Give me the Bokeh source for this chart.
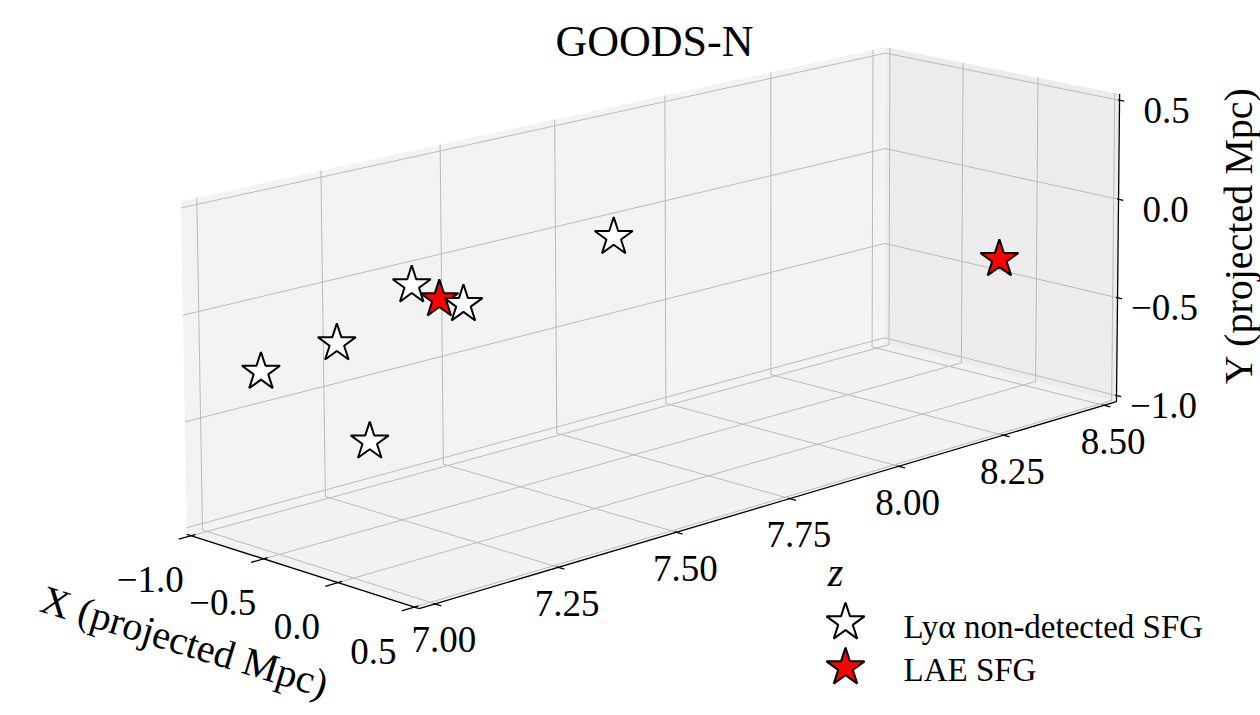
import numpy as np
from bokeh.plotting import figure
from bokeh.models import Range1d
from bokeh.core.properties import value
from bokeh.embed import file_html
from bokeh.resources import INLINE

W, H = 1260, 715
FONT = "Liberation Serif"

# ---------------- data ----------------
# projected X / Y (Mpc) and redshift of each galaxy, LAE flag
x_proj = [-0.85, -0.70, -0.35, -0.55, -0.95, -0.30, -0.60, 0.10]
y_proj = [-0.29, -0.19, -0.56, 0.05, -0.19, -0.01, 0.03, -0.31]
z_spec = [7.07, 7.18, 7.14, 7.29, 7.47, 7.32, 7.74, 8.40]
lae = [0, 0, 0, 0, 1, 0, 0, 1]

# ---------------- chart texts / ticks ----------------
title = "GOODS-N"
x_label = "X (projected Mpc)"
y_label = "Y (projected Mpc)"
z_label = "z"
legend_labels = ["Ly\u03b1 non-detected SFG", "LAE SFG"]

x_lim = (-1.0, 0.5)
y_lim = (-1.0, 0.5)
z_lim = (7.0, 8.5)
x_ticks = [-1.0, -0.5, 0.0, 0.5]
y_ticks = [-1.0, -0.5, 0.0, 0.5]
z_ticks = [7.00, 7.25, 7.50, 7.75, 8.00, 8.25, 8.50]
x_tick_labels = ["\u22121.0", "\u22120.5", "0.0", "0.5"]
y_tick_labels = ["\u22121.0", "\u22120.5", "0.0", "0.5"]
z_tick_labels = ["7.00", "7.25", "7.50", "7.75", "8.00", "8.25", "8.50"]

# ---------------- camera (view calibration: box points -> screen) ----------------
cal_world = [(-1.03125, 0.5, 7.0), (-1.03125, 0.0, 7.0), (-1.03125, -0.5, 7.0), (-1.03125, -1.0, 7.0),
             (-1.03125, 0.5, 8.5), (-1.03125, 0.0, 8.5), (-1.03125, -1.0, 8.5),
             (0.53125, -1.03125, 7.25), (0.53125, -1.03125, 7.5), (0.53125, -1.03125, 7.75),
             (0.53125, -1.03125, 8.0), (0.53125, -1.03125, 8.25), (0.53125, -1.03125, 8.5),
             (0.53125, 0.5, 8.53125), (0.53125, 0.0, 8.53125), (0.53125, -0.5, 8.53125), (0.53125, -1.0, 8.53125),
             (-1.0, -1.03125, 6.96875), (-0.5, -1.03125, 6.96875), (0.0, -1.03125, 6.96875), (0.5, -1.03125, 6.96875)]
cal_screen = [(197, 205), (198, 311.5), (200, 417), (201, 521),
              (872, 54), (872, 150), (872, 343),
              (560, 567), (677, 532), (790, 498), (898, 465), (1002, 435), (1105, 404),
              (1119, 100), (1119, 200), (1116, 297), (1115, 395),
              (192, 536), (263, 558), (337, 583), (411, 606)]
C0 = np.array([0.25, 0.25, -7.75])


def fit_camera(world, screen):
    rows, rhs = [], []
    for (X, Y, Z), (u, v) in zip(world, screen):
        X, Y, Z = np.array([X, Y, Z]) + C0
        rows.append([X, Y, Z, 1, 0, 0, 0, 0, -u * X, -u * Y, -u * Z]); rhs.append(u)
        rows.append([0, 0, 0, 0, X, Y, Z, 1, -v * X, -v * Y, -v * Z]); rhs.append(v)
    p = np.linalg.lstsq(np.array(rows), np.array(rhs), rcond=None)[0]
    return np.append(p, 1.0).reshape(3, 4)


P = fit_camera(cal_world, cal_screen)


def proj(X, Y, Z):
    X = np.asarray(X, float) + C0[0]
    Y = np.asarray(Y, float) + C0[1]
    Z = np.asarray(Z, float) + C0[2]
    w = np.stack([X, Y, Z, np.ones_like(X)])
    q = P @ w
    return q[0] / q[2], H - q[1] / q[2]


def seg(a, b):
    a = np.asarray(a, float); b = np.asarray(b, float)
    xs, ys = proj([a[0], b[0]], [a[1], b[1]], [a[2], b[2]])
    return list(xs), list(ys)


def pad(lim):
    d = (lim[1] - lim[0]) / 48.0
    return lim[0] - d, lim[1] + d


xa, xb = pad(x_lim)
ya, yb = pad(y_lim)
za, zb = pad(z_lim)

p = figure(width=W, height=H, x_range=Range1d(0, W), y_range=Range1d(0, H),
           output_backend="svg", toolbar_location=None, min_border=0)
p.axis.visible = False
p.grid.visible = False
p.outline_line_color = None
p.background_fill_color = "white"
p.border_fill_color = "white"

# panes
panes = [
    ([(xa, ya, za), (xa, ya, zb), (xa, yb, zb), (xa, yb, za)], "#f3f3f3"),
    ([(xa, ya, zb), (xb, ya, zb), (xb, yb, zb), (xa, yb, zb)], "#ececec"),
    ([(xa, ya, za), (xb, ya, za), (xb, ya, zb), (xa, ya, zb)], "#f2f2f2"),
]
for corners, col in panes:
    c = np.array(corners).T
    sx, sy = proj(c[0], c[1], c[2])
    p.patch(list(sx), list(sy), fill_color=col, line_color=None)

# grid lines
gx, gy = [], []
for t in z_ticks:
    for a, b in [((xa, ya, t), (xa, yb, t)), ((xa, ya, t), (xb, ya, t))]:
        sx, sy = seg(a, b); gx.append(sx); gy.append(sy)
for t in y_ticks:
    for a, b in [((xa, t, za), (xa, t, zb)), ((xa, t, zb), (xb, t, zb))]:
        sx, sy = seg(a, b); gx.append(sx); gy.append(sy)
for t in x_ticks:
    for a, b in [((t, ya, zb), (t, yb, zb)), ((t, ya, za), (t, ya, zb))]:
        sx, sy = seg(a, b); gx.append(sx); gy.append(sy)
p.multi_line(gx, gy, line_color="#bababa", line_width=1)

# axis lines and tick marks
ax_x, ax_y = [], []
for a, b in [((xa, ya, za), (xb, ya, za)), ((xb, ya, za), (xb, ya, zb)), ((xb, ya, zb), (xb, yb, zb))]:
    sx, sy = seg(a, b); ax_x.append(sx); ax_y.append(sy)
for t in x_ticks:
    sx, sy = seg((t, ya, za + 0.008), (t, ya, za - 0.025)); ax_x.append(sx); ax_y.append(sy)
for t in z_ticks:
    sx, sy = seg((xb - 0.012, ya, t), (xb + 0.04, ya, t)); ax_x.append(sx); ax_y.append(sy)
for t in y_ticks:
    sx, sy = seg((xb - 0.01, t, zb), (xb + 0.03, t, zb)); ax_x.append(sx); ax_y.append(sy)
p.multi_line(ax_x, ax_y, line_color="black", line_width=1.3)

# tick labels
tick_style = dict(text_font=value(FONT), text_font_size="37px", text_color="black",
                  text_align="center", text_baseline="middle")
sx, sy = proj(x_ticks, [ya] * len(x_ticks), [za] * len(x_ticks))
p.text(list(sx - 41), list(sy - 44), text=x_tick_labels, **tick_style)
sx, sy = proj([xb] * len(z_ticks), [ya] * len(z_ticks), z_ticks)
p.text(list(sx + 9), list(sy - 36), text=z_tick_labels, **tick_style)
sx, sy = proj([xb] * len(y_ticks), y_ticks, [zb] * len(y_ticks))
p.text(list(sx + 47), list(sy - 10), text=y_tick_labels, **tick_style)

# axis labels and title
lab = dict(text_font=value(FONT), text_font_size="40px", text_color="black",
           text_align="center", text_baseline="middle")
p.text([184], [H - 641], text=[x_label], angle=[-17], angle_units="deg", **lab)
p.text([1238], [H - 235], text=[y_label], angle=[90], angle_units="deg", **lab)
p.text([835], [H - 572], text=[z_label], text_font_style="italic", **lab)
p.text([654], [H - 41], text=[title], text_font=value(FONT), text_font_size="44px",
       text_align="center", text_baseline="middle", text_color="black")

# points (drawn in data order)
sx, sy = proj(x_proj, y_proj, z_spec)
cols = ["red" if f else "white" for f in lae]
p.scatter(list(sx), list(sy), marker="star", size=40, fill_color=cols,
          line_color="black", line_width=2)

# legend (manual, no frame)
p.scatter([845, 845], [H - 622, H - 667], marker="star", size=40,
          fill_color=["white", "red"], line_color="black", line_width=2)
p.text([903, 903], [H - 626, H - 669], text=legend_labels, text_font=value(FONT),
       text_font_size="33px", text_align="left", text_baseline="middle", text_color="black")

open("out.html", "w").write(file_html(p, INLINE))
